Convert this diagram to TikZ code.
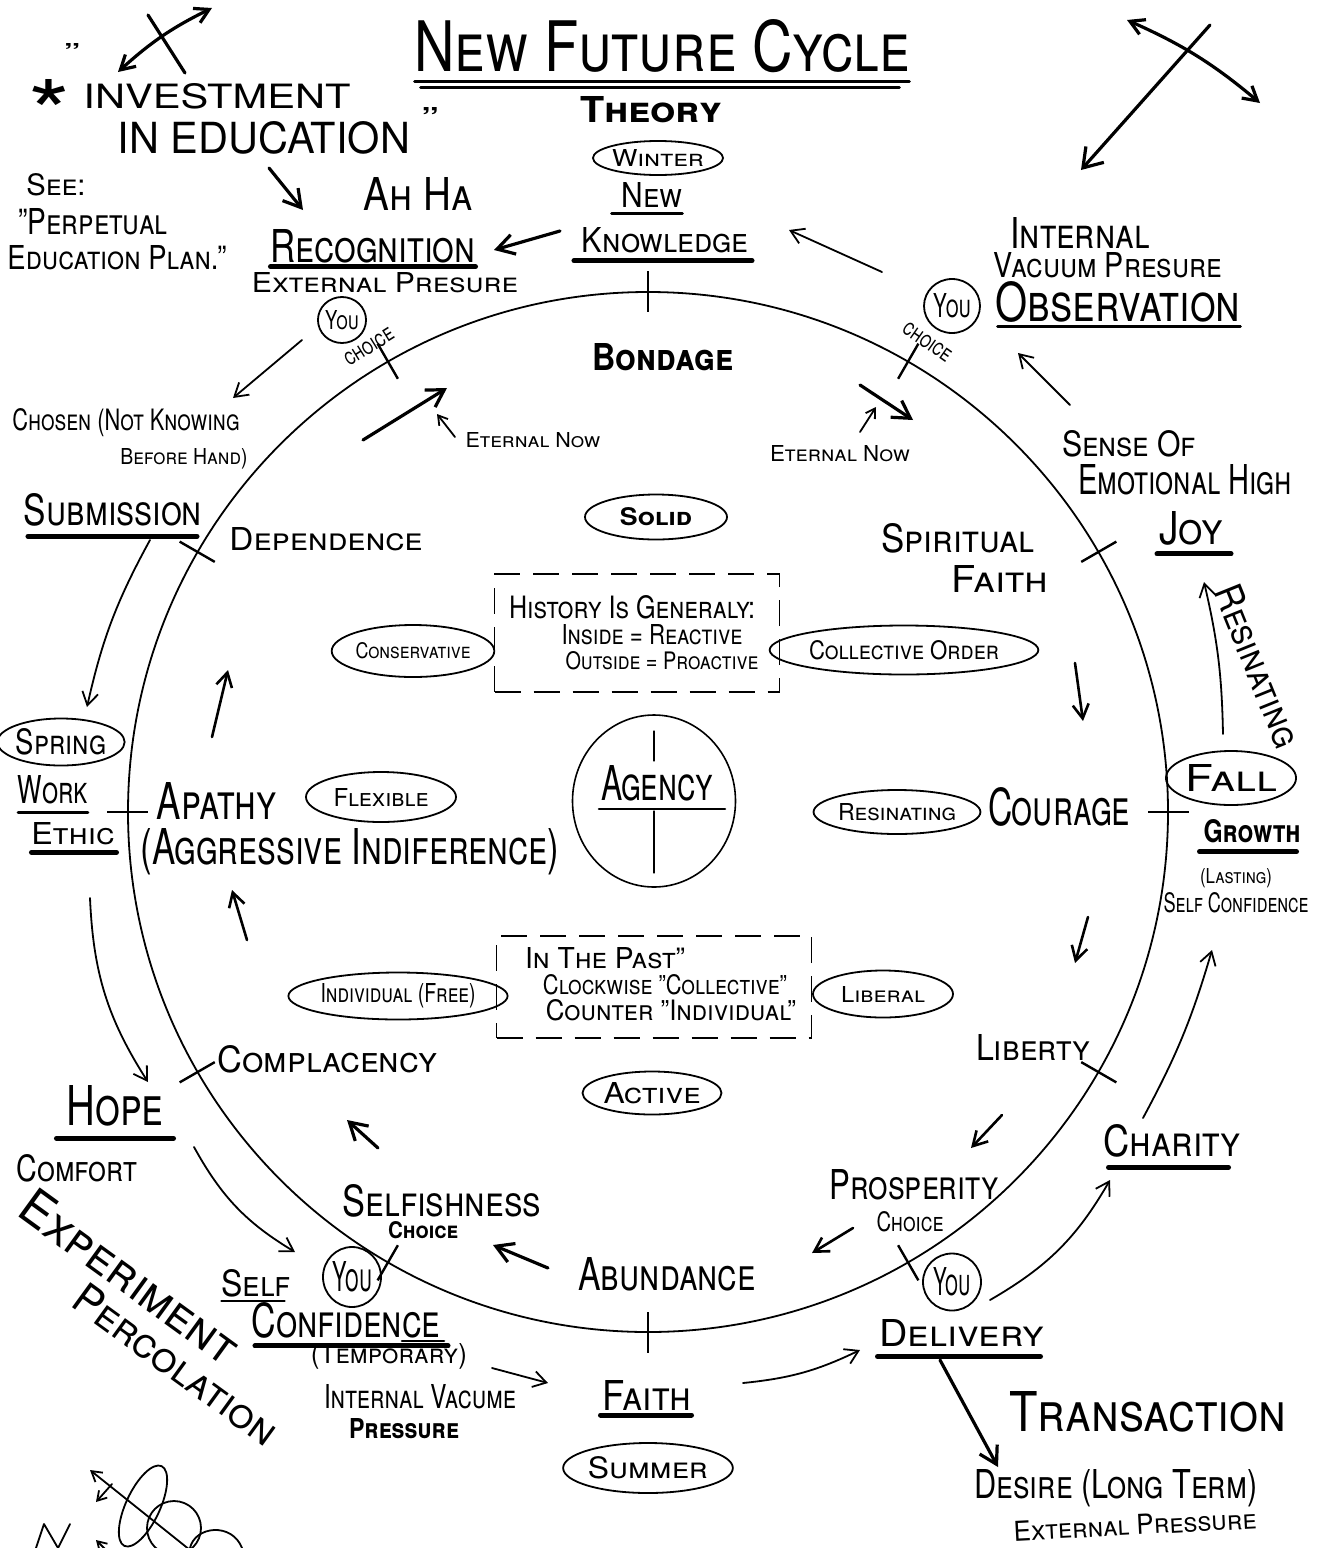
\documentclass[tikz,border=0pt]{standalone}
\usepackage{fontspec}
\setmainfont{TeX Gyre Heros}
\usetikzlibrary{arrows.meta,shapes.geometric,calc}
% text squeezed into a given width and cap height (small-caps lettering)
\newcommand\hw[3]{\resizebox{#1pt}{#2pt}{\scshape #3}}
\newcommand\hwb[3]{\resizebox{#1pt}{#2pt}{\bfseries\scshape #3}}

\tikzset{
  every node/.style={inner sep=0pt, outer sep=0pt},
  oval/.style={draw, ellipse, line width=1.8pt},
  pen/.style={line width=1.8pt, line cap=round, line join=round},
  heavy/.style={line width=3.2pt, line cap=round},
  uline/.style={line width=2.6pt, line cap=round},
  buline/.style={line width=5pt, line cap=round},
  arr/.style={pen, -{Straight Barb[length=13pt,width=16pt]}},
  sarr/.style={pen, -{Straight Barb[length=9pt,width=11pt]}},
  marr/.style={line width=2.6pt, line cap=round, -{Straight Barb[length=14pt,width=16pt]}},
  barr/.style={heavy, -{Straight Barb[length=17pt,width=20pt]}},
  dbox/.style={draw, line width=1.8pt, dash pattern=on 26pt off 13pt},
  ticks/.style={line width=2.4pt},
}

\begin{document}
\begin{tikzpicture}[x=1pt,y=-1pt]
\useasboundingbox (0,0) rectangle (1323,1548);

% ---------- main cycle with its twelve marks ----------
\node[draw, circle, line width=1.8pt, minimum size=1040pt] (ring) at (648,812) {};
\foreach \a in {0,30,...,330}
  \draw[ticks] ($(ring.center)!0.962!(ring.\a)$) -- ($(ring.center)!1.04!(ring.\a)$);

% ---------- title and top ----------
\node (title) at (662,46) {\hw{495}{52}{New Future Cycle}};
\draw[uline] ([yshift=-9pt]title.south west) -- ([yshift=-9pt]title.south east);
\draw[uline] ([yshift=-15pt,xshift=6pt]title.south west) -- ([yshift=-15pt,xshift=-10pt]title.south east);
\node (theory) at (651,110) {\hwb{142}{26}{Theory}};
\node[oval, minimum width=116pt, minimum height=34pt] (winter) at (658,158) {\hw{92}{17}{Winter}};
\node (new) at (652,195) {\hw{61}{25}{New}};
\draw[uline] ([yshift=-6pt,xshift=-10pt]new.south west) -- ([yshift=-6pt]new.south east);
\node (knowledge) at (665,240) {\hw{166}{25}{Knowledge}};
\draw[buline] ([yshift=-8pt,xshift=-8pt]knowledge.south west) -- ([yshift=-8pt,xshift=4pt]knowledge.south east);

% ---------- upper left ----------
\node (star) at (50,112) {\resizebox{42pt}{66pt}{*}};
\node (oquote) at (72,52) {\resizebox{16pt}{18pt}{"}};
\node (invest) at (217,96) {\resizebox{267pt}{25pt}{INVESTMENT}};
\node (ineduc) at (264,138) {\resizebox{292pt}{32pt}{IN EDUCATION}};
\node (cquote) at (430,118) {\resizebox{17pt}{22pt}{"}};
\node (see) at (56,185) {\hw{59}{22}{See:}};
\node (perp) at (93,222) {\hw{149}{26}{"Perpetual}};
\node (edplan) at (117,258) {\hw{219}{24}{Education Plan."}};
\node (ahha) at (418,194) {\hw{109}{33}{Ah Ha}};
\node (recog) at (373,246) {\hw{205}{33}{Recognition}};
\draw[buline] ([yshift=-4pt]recog.south west) -- ([yshift=-4pt]recog.south east);
\node (extpres) at (385,283) {\hw{266}{20}{External Presure}};
\node[oval, minimum width=48pt, minimum height=46pt] (you1) at (342,320) {\hw{34}{19}{You}};
\node[rotate=32] (choice1) at (369,347) {\hw{55}{13}{choice}};
\node (chosen) at (126,423) {\hw{227}{22}{Chosen (Not Knowing}};
\node (before) at (184,459) {\hw{127}{16}{Before Hand)}};
\node (submis) at (113,510) {\hw{178}{32}{Submission}};
\draw[buline] ([yshift=-10pt,xshift=4pt]submis.south west) -- ([yshift=-10pt,xshift=-5pt]submis.south east);
\node[oval, minimum width=108pt, minimum height=47pt] (spring) at (61,742) {\hw{90}{26}{Spring}};
\node (work) at (53,790) {\hw{70}{28}{Work}};
\draw[uline] ([yshift=-8pt]work.south west) -- ([yshift=-8pt]work.south east);
\node (ethic) at (73,834) {\hw{83}{22}{Ethic}};
\draw[buline] ([yshift=-7pt]ethic.south west) -- ([yshift=-7pt,xshift=2pt]ethic.south east);

% ---------- lower left ----------
\node (hope) at (115,1106) {\hw{97}{40}{Hope}};
\draw[buline] ([yshift=-12pt,xshift=-10pt]hope.south west) -- ([yshift=-12pt,xshift=10pt]hope.south east);
\node (comfort) at (77,1168) {\hw{120}{27}{Comfort}};
\node[rotate=-36] (exper) at (130,1276) {\hw{258}{36}{Experiment}};
\node[rotate=-36] (percol) at (176,1364) {\hw{242}{31}{Percolation}};
\node (selfw) at (256,1283) {\hw{69}{27}{Self}};
\draw[uline] ([yshift=-4pt]selfw.south west) -- ([yshift=-4pt,xshift=-6pt]selfw.south east);
\node[oval, minimum width=58pt, minimum height=60pt] (you3) at (352,1277) {\hw{40}{30}{You}};
\node (confid) at (346,1320) {\hw{188}{35}{Confidence}};
\draw[buline] ([yshift=-8pt,xshift=3pt]confid.south west) -- ([yshift=-8pt,xshift=8pt]confid.south east);
\draw[uline] ([yshift=-3pt,xshift=150pt]confid.south west) -- ([yshift=-3pt,xshift=4pt]confid.south east);
\node (tempor) at (389,1356) {\hw{156}{20}{(Temporary)}};
\node (intvac) at (420,1397) {\hw{192}{24}{Internal Vacume}};
\node (press1) at (404,1429) {\hwb{110}{20}{Pressure}};

% ---------- bottom ----------
\node (faithb) at (647,1395) {\hw{89}{30}{Faith}};
\draw[buline] ([yshift=-5pt,xshift=-2pt]faithb.south west) -- ([yshift=-5pt]faithb.south east);
\node[oval, minimum width=150pt, minimum height=50pt] (summer) at (648,1468) {\hw{120}{22}{Summer}};
\node (deliv) at (962,1333) {\hw{165}{27}{Delivery}};
\draw[buline] ([yshift=-10pt,xshift=-2pt]deliv.south west) -- ([yshift=-10pt,xshift=-4pt]deliv.south east);
\node (transac) at (1148,1412) {\hw{277}{40}{Transaction}};
\node (desire) at (1116,1488) {\hw{283}{29}{Desire (Long Term)}};
\node[rotate=3] (extpres2) at (1135,1525) {\hw{243}{20}{External Pressure}};
\node[oval, minimum width=58pt, minimum height=57pt] (you4) at (952,1282) {\hw{38}{28}{You}};

% ---------- right side ----------
\node (charity) at (1172,1141) {\hw{137}{32}{Charity}};
\draw[buline] ([yshift=-10pt,xshift=5pt]charity.south west) -- ([yshift=-10pt,xshift=-12pt]charity.south east);
\node[oval, minimum width=108pt, minimum height=54pt] (fall) at (1231,778) {\hw{92}{27}{Fall}};
\node (growth) at (1252,831) {\hwb{97}{23}{Growth}};
\draw[buline] ([yshift=-9pt,xshift=-4pt]growth.south west) -- ([yshift=-9pt,xshift=-4pt]growth.south east);
\node (lasting) at (1236,878) {\hw{72}{15}{(Lasting)}};
\node (selfconf) at (1236,903) {\hw{145}{20}{Self Confidence}};
\node[rotate=-68] (resinr) at (1258,666) {\hw{172}{28}{Resinating}};
\node (joy) at (1191,528) {\hw{64}{33}{Joy}};
\draw[buline] ([yshift=-9pt,xshift=-2pt]joy.south west) -- ([yshift=-9pt,xshift=8pt]joy.south east);
\node (sense) at (1129,444) {\hw{134}{26}{Sense Of}};
\node (emohigh) at (1185,480) {\hw{214}{30}{Emotional High}};
\node (internal) at (1080,233) {\hw{139}{31}{Internal}};
\node (vacpres) at (1108,265) {\hw{228}{25}{Vacuum Presure}};
\node[oval, minimum width=56pt, minimum height=54pt] (you2) at (952,306) {\hw{38}{24}{You}};
\node (observ) at (1118,302) {\hw{245}{40}{Observation}};
\draw[uline] ([yshift=-4pt,xshift=2pt]observ.south west) -- ([yshift=-4pt]observ.south east);
\node[rotate=-35] (choice2) at (927,342) {\hw{55}{13}{choice}};

% ---------- inside the cycle ----------
\node (bondage) at (663,357) {\hwb{140}{27}{Bondage}};
\node (etern1) at (533,440) {\hw{135}{15}{Eternal Now}};
\node (etern2) at (840,454) {\hw{140}{16}{Eternal Now}};
\node[oval, minimum width=142pt, minimum height=45pt] (solid) at (656,517) {\hwb{72}{18}{Solid}};
\node (depend) at (326,539) {\hw{193}{23}{Dependence}};
\node (spirit) at (958,538) {\hw{153}{29}{Spiritual}};
\node (faithr) at (1000,579) {\hw{97}{27}{Faith}};

\node[dbox, minimum width=285pt, minimum height=118pt] (histbox) at (637,633) {};
\node (hist1) at (632,607) {\hw{246}{23}{History Is Generaly:}};
\node (hist2) at (652,635) {\hw{181}{20}{Inside = Reactive}};
\node (hist3) at (662,661) {\hw{193}{18}{Outside = Proactive}};
\node[oval, minimum width=149pt, minimum height=52pt] (conserv) at (413,651) {\hw{115}{16}{Conservative}};
\node[oval, minimum width=230pt, minimum height=49pt] (collect) at (904,650) {\hw{190}{19}{Collective Order}};

\node[draw, ellipse, line width=1.6pt, minimum width=163pt, minimum height=172pt] (agencyc) at (654,801) {};
\node (agency) at (657,783) {\hw{112}{35}{Agency}};
\draw[uline] ([yshift=-8pt,xshift=-2pt]agency.south west) -- ([yshift=-8pt,xshift=12pt]agency.south east);
\draw[pen, line width=1.2pt] ($(agencyc.north)+(0,16)$) -- ($(agencyc.north)+(0,46)$);
\draw[pen, line width=1.2pt] ($(agencyc.south)+(0,-76)$) -- ($(agencyc.south)+(0,-14)$);

\node (apathy) at (217,801) {\hw{120}{37}{Apathy}};
\node[oval, minimum width=150pt, minimum height=50pt] (flexible) at (381,797) {\hw{95}{18}{Flexible}};
\node (aggress) at (350,852) {\hw{418}{36}{(Aggressive Indiference)}};
\node[oval, minimum width=143pt, minimum height=44pt] (resin) at (897,812) {\hw{118}{17}{Resinating}};
\node (courage) at (1059,807) {\hw{142}{38}{Courage}};

\node[dbox, minimum width=315pt, minimum height=102pt] (pastbox) at (654,987) {};
\node (past1) at (605,958) {\hw{160}{21}{In The Past"}};
\node (past2) at (665,985) {\hw{244}{20}{Clockwise "Collective"}};
\node (past3) at (671,1010) {\hw{250}{21}{Counter "Individual"}};
\node[oval, minimum width=175pt, minimum height=47pt] (indiv) at (398,996) {\hw{155}{19}{Individual (Free)}};
\node[oval, minimum width=140pt, minimum height=47pt] (liberal) at (883,994) {\hw{84}{16}{Liberal}};
\node (liberty) at (1033,1047) {\hw{114}{26}{Liberty}};
\node (complac) at (328,1059) {\hw{220}{27}{Complacency}};
\node[oval, minimum width=139pt, minimum height=43pt] (active) at (652,1093) {\hw{97}{21}{Active}};
\node (selfish) at (442,1201) {\hw{198}{32}{Selfishness}};
\node (choice3) at (423,1230) {\hwb{70}{17}{Choice}};
\node (abund) at (667,1274) {\hw{177}{33}{Abundance}};
\node (prosp) at (914,1185) {\hw{169}{30}{Prosperity}};
\node (choice4) at (910,1222) {\hw{67}{20}{Choice}};

% ---------- arrows outside the cycle ----------
\coordinate (kr1) at (560,231);  \coordinate (kr2) at (494,250);
\draw[barr] (kr1) -- (kr2);
\coordinate (ok1) at (882,272);  \coordinate (ok2) at (789,230);
\draw[arr] (ok1) -- (ok2);
\coordinate (so1) at (1070,405); \coordinate (so2) at (1018,353);
\draw[arr] (so1) -- (so2);
\coordinate (fj1) at (1223,734); \coordinate (fj2) at (1204,582);
\draw[arr] (fj1) to[bend right=6] (fj2);
\coordinate (cg1) at (1143,1118); \coordinate (cg2) at (1212,950);
\draw[arr] (cg1) to[bend right=6] (cg2);
\coordinate (yc1) at (990,1300); \coordinate (yc2) at (1110,1180);
\draw[arr] (yc1) to[bend right=15] (yc2);
\coordinate (fd1) at (743,1383); \coordinate (fd2) at (860,1350);
\draw[arr] (fd1) to[bend right=10] (fd2);
\coordinate (tf1) at (492,1368); \coordinate (tf2) at (548,1383);
\draw[arr] (tf1) -- (tf2);
\coordinate (hs1) at (194,1147); \coordinate (hs2) at (295,1252);
\draw[arr] (hs1) to[bend right=15] (hs2);
\coordinate (eh1) at (90,898);   \coordinate (eh2) at (148,1082);
\draw[arr] (eh1) to[bend right=15] (eh2);
\coordinate (ss1) at (150,540);  \coordinate (ss2) at (87,707);
\draw[arr] (ss1) to[bend right=8] (ss2);
\coordinate (yc3) at (302,340);  \coordinate (yc4) at (233,398);
\draw[arr] (yc3) -- (yc4);
\coordinate (dd1) at (940,1360); \coordinate (dd2) at (998,1467);
\draw[barr] (dd1) -- (dd2);
\coordinate (er1) at (269,168);  \coordinate (er2) at (303,210);
\draw[barr] (er1) -- (er2);

% ---------- arrows inside the cycle ----------
\coordinate (i1a) at (363,440);  \coordinate (i1b) at (447,388);
\draw[barr] (i1a) -- (i1b);
\coordinate (i2a) at (455,437);  \coordinate (i2b) at (437,414);
\draw[sarr] (i2a) -- (i2b);
\coordinate (i3a) at (860,385);  \coordinate (i3b) at (913,420);
\draw[barr] (i3a) -- (i3b);
\coordinate (i4a) at (860,432);  \coordinate (i4b) at (876,407);
\draw[sarr] (i4a) -- (i4b);
\coordinate (i5a) at (1075,663); \coordinate (i5b) at (1083,721);
\draw[marr] (i5a) -- (i5b);
\coordinate (i6a) at (1088,917); \coordinate (i6b) at (1075,963);
\draw[marr] (i6a) -- (i6b);
\coordinate (i7a) at (1002,1115); \coordinate (i7b) at (971,1148);
\draw[marr] (i7a) -- (i7b);
\coordinate (i8a) at (853,1228); \coordinate (i8b) at (812,1253);
\draw[marr] (i8a) -- (i8b);
\coordinate (i9a) at (548,1268); \coordinate (i9b) at (493,1245);
\draw[barr] (i9a) -- (i9b);
\coordinate (i10a) at (378,1148); \coordinate (i10b) at (347,1120);
\draw[barr] (i10a) -- (i10b);
\coordinate (i11a) at (247,940); \coordinate (i11b) at (232,890);
\draw[marr] (i11a) -- (i11b);
\coordinate (i12a) at (212,737); \coordinate (i12b) at (228,670);
\draw[marr] (i12a) -- (i12b);

% ---------- corner marks ----------
\coordinate (tl1) at (118,72);  \coordinate (tl2) at (212,8);
\draw[heavy, {Straight Barb[length=14pt,width=16pt]}-{Straight Barb[length=14pt,width=16pt]}] (tl1) to[bend left=8] (tl2);
\coordinate (tl3) at (148,15);  \coordinate (tl4) at (185,73);
\draw[heavy] (tl3) -- (tl4);
\coordinate (tr1) at (1127,20); \coordinate (tr2) at (1260,103);
\draw[heavy, {Straight Barb[length=14pt,width=16pt]}-{Straight Barb[length=14pt,width=16pt]}] (tr1) to[bend left=8] (tr2);
\coordinate (tr3) at (1210,25); \coordinate (tr4) at (1081,170);
\draw[heavy, -{Straight Barb[length=18pt,width=24pt]}] (tr3) -- (tr4);

% ---------- loops in the lower left corner ----------
\begin{scope}
\clip (0,0) rectangle (1323,1548);
\draw[pen, rotate around={-25:(143,1506)}] (143,1506) ellipse [x radius=17, y radius=44];
\draw[pen] (174,1528) circle [radius=27];
\draw[pen] (190,1548) .. controls (195,1526) and (232,1522) .. (242,1548);
\coordinate (lp1) at (90,1470); \coordinate (lp2) at (190,1550);
\draw[pen, {Straight Barb[length=10pt,width=12pt]}-] (lp1) -- (lp2);
\coordinate (lp3) at (112,1484); \coordinate (lp4) at (96,1502);
\draw[sarr] (lp3) -- (lp4);
\draw[pen] (36,1548) -- (44,1524) -- (58,1548) -- (70,1524);
\coordinate (lp5) at (108,1552); \coordinate (lp6) at (96,1540);
\draw[sarr] (lp5) -- (lp6);
\end{scope}
\end{tikzpicture}
\end{document}
